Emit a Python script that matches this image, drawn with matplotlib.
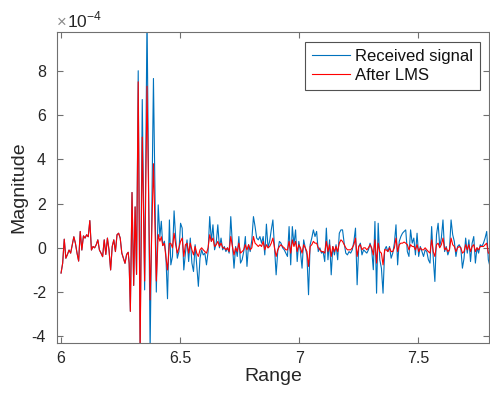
import numpy as np
import matplotlib
matplotlib.use("Agg")
import matplotlib.pyplot as plt

plt.rcParams['font.family'] = ['Liberation Sans', 'DejaVu Sans']

SCALE = 1e-4

# ---- data (magnitudes in units of 1e-4) ----
# pre-burst segment: range 6.000 .. 6.282 (received ~ after LMS)
pre_values = [-1.14, -0.7, 0.39, -0.47, -0.3, -0.1, -0.24, 0.14, 0.5, 0.2, -0.24, -0.6,
              0.74, -0.1, 0.54, 0.44, 0.59, 0.5, 1.23, -0.1, 0.06, 0.0, 0.14, 0.36, -0.1,
              -0.24, -0.4, 0.36, -0.3, 0.44, -0.1, -1.0, 0.06, 0.36, -0.17, 0.59, 0.66,
              0.44, -0.24, -0.47, -0.7, -0.3, -0.2]
pre_start, pre_end = 6.000, 6.282

# burst segment
burst_range = [6.286, 6.291, 6.298, 6.305, 6.311, 6.317, 6.324, 6.332, 6.341, 6.351, 6.361,
               6.374, 6.388, 6.400, 6.408, 6.415, 6.421, 6.427, 6.434, 6.440, 6.447, 6.455]
burst_received = [-0.7, -2.87, 2.5, -1.7, 1.85, -1.2, 8.0, -4.6, 6.7, -1.9, 10.5,
                  -4.6, 7.65, -2.0, 1.94, 0.51, 1.2, 0.1, 0.3, -0.3, -2.3, 1.26]
burst_lms = [-0.7, -2.87, 2.5, -1.7, 1.85, -1.2, 7.5, -4.6, 5.0, -1.5, 7.3,
             -2.35, 3.8, -1.5, 0.6, 0.3, 0.5, 0.1, 0.2, -0.4, -1.0, 0.2]

# post-burst segment: range 6.461 .. 7.801
post_received = [
    -0.77, -0.39, 1.67, 0.44, -0.47, -0.17, 1.11, 0.89, -1.0, -0.24, 0.36, -0.62, 0.44,
    -0.69, -1.07, 0.14, -0.77, -1.74, -0.47, -0.09, -0.32, -0.24, -0.77, -0.17, 1.41,
    0.29, 1.04, -0.09, 0.21, 1.04, 0.0, 0.44, -0.09, 0.06, -0.17, 0.0, -0.24, 1.41,
    0.14, -0.92, 0.06, -0.39, 0.51, -0.69, -0.54, -0.17, 0.51,
    -0.84, 0.14, -0.17, 0.36, 1.41, 0.96, 0.44, 0.36, 0.51, 0.21, 0.51, -0.32, 1.07,
    0.0, 0.29, 0.81, 1.26, 0.06, -1.22, -0.17, 0.29, 0.21, 0.0, -0.09, -0.24, -0.39,
    0.96, -0.77, 0.96, 0.14, 0.81, -0.62, 0.29, -0.17, -0.92, 0.36, 0.0, -0.32, -2.12,
    0.14, 0.44, 0.81, 0.51, 0.74, -0.17, 0.0, -0.24, -0.17, -0.62, 0.89,
    -0.54, 0.36, -1.22, 0.06, -0.32, 0.14, -0.54, 0.66, 0.81, 0.81, 0.21, -0.24, -0.32,
    -0.17, -0.24, -0.09, 0.29, 0.89, -1.67, 0.06, 0.21, -0.32, -0.09, -0.17, -0.24,
    -0.09, 0.21, -0.09, -0.99, 1.19, -2.05, 1.11, -0.54, -0.92, -2.05, -0.09, 0.06,
    -0.17, 0.06, -0.47, -0.24, 0.21, 1.04, -0.77, 0.29, 0.51, 0.66, 0.74,
    0.81, -0.17, -0.39, 0.81, 0.21, 0.44, -0.32, 0.66, -0.39, 0.06, -0.17, -0.39, -0.09,
    -0.17, -0.54, -0.69, 0.96, -0.47, -1.52, 0.59, 1.11, 0.06, 0.44, 1.26, -0.17, 0.06,
    -0.32, -0.09, 1.26, 0.59, 0.29, -0.39, 0.06, 0.14, 0.0, -0.92, -0.47, 0.44, -0.24,
    0.36, -0.62, 0.21, 0.51, -0.69, 0.0, -0.24, 0.14, 0.06, 0.21, 0.44, 0.74, -0.54, -0.84]
post_lms = [
    0.2, 0.0, 0.66, 0.14, -0.24, 0.0, 0.29, 0.44, -0.39, 0.14, 0.21, -0.24, 0.21,
    -0.09, -0.32, 0.06, -0.24, -0.39, -0.09, 0.0, -0.09, -0.17, -0.24, 0.0, 0.59,
    0.29, 0.44, 0.06, 0.14, 0.29, 0.06, 0.21, 0.0, 0.0, -0.09, 0.0, -0.17, 0.51,
    0.06, -0.32, 0.0, -0.17, 0.21, -0.24, -0.17, -0.09, 0.14,
    -0.09, 0.14, -0.09, 0.0, 0.51, 0.21, 0.14, 0.06, 0.14, 0.06, 0.29, -0.09, 0.14,
    0.0, 0.06, 0.21, 0.44, 0.0, -0.39, -0.09, 0.06, 0.14, 0.06, 0.0, -0.09, -0.09,
    0.29, -0.24, 0.36, 0.06, 0.29, -0.17, 0.14, 0.0, -0.24, 0.14, 0.0, -0.17, -0.84,
    0.06, 0.14, 0.29, 0.21, 0.21, 0.0, -0.09, -0.17, -0.17, -0.24, 0.29,
    -0.17, 0.14, -0.39, 0.06, -0.17, 0.06, -0.17, 0.21, 0.36, 0.29, 0.14, 0.0, -0.09,
    -0.09, -0.09, 0.0, 0.14, 0.44, -0.39, 0.06, 0.14, -0.09, 0.0, 0.0, -0.09,
    0.0, 0.14, 0.0, -0.32, 0.36, -0.69, 0.21, -0.17, -0.24, -0.77, -0.09, -0.09,
    -0.17, 0.0, -0.17, -0.17, 0.0, 0.44, -0.17, 0.14, 0.21, 0.21, 0.26,
    0.21, 0.14, -0.09, 0.14, 0.06, 0.06, -0.09, 0.14, -0.17, 0.0, -0.09, -0.09, 0.0,
    -0.09, -0.17, -0.24, 0.36, -0.17, -0.39, 0.14, 0.21, 0.0, 0.14, 0.44, -0.09, 0.0,
    -0.17, -0.09, 0.44, 0.14, 0.06, -0.17, 0.0, 0.06, 0.0, -0.24, -0.17, 0.14, -0.09,
    0.14, -0.17, 0.06, 0.14, -0.17, 0.0, -0.09, 0.06, 0.06, 0.06, 0.14, 0.21, -0.24, -0.24]
post_start, post_end = 6.461, 7.801

x_ticks = [6, 6.5, 7, 7.5]
y_ticks = [-4, -2, 0, 2, 4, 6, 8]
x_limits = (5.983, 7.797)
y_limits = (-4.3, 9.75)

# ---- assemble ----
range_axis = np.concatenate([np.linspace(pre_start, pre_end, len(pre_values)),
                             np.array(burst_range),
                             np.linspace(post_start, post_end, len(post_received))])
received = np.concatenate([pre_values, burst_received, post_received]) * SCALE
after_lms = np.concatenate([pre_values, burst_lms, post_lms]) * SCALE

fig = plt.figure(figsize=(4.9, 3.96), dpi=100)
ax = fig.add_axes([57/490, 1 - 343/396, (489 - 57)/490, (343 - 32)/396])

ax.plot(range_axis, received, color='#0072BD', lw=0.8, label='Received signal')
ax.plot(range_axis, after_lms, color='#FF0000', lw=0.8, label='After LMS')

ax.set_xlim(*x_limits)
ax.set_ylim(y_limits[0] * SCALE, y_limits[1] * SCALE)
ax.set_xticks(x_ticks)
ax.set_xticklabels([f'{t:g}' for t in x_ticks])
ax.set_yticks([t * SCALE for t in y_ticks])
ax.set_yticklabels([f'{t:g}' for t in y_ticks])

axis_col = '#707070'
text_col = '#262626'
for s in ax.spines.values():
    s.set_color(axis_col)
    s.set_linewidth(0.8)
ax.tick_params(direction='in', top=True, right=True, length=4, width=0.8,
               colors=axis_col, labelcolor=text_col, labelsize=11.5)
ax.tick_params(axis='y', pad=8)
ax.tick_params(axis='x', pad=6)

ax.set_xlabel('Range', fontsize=14, color=text_col, labelpad=1)
ax.set_ylabel('Magnitude', fontsize=14, color=text_col, labelpad=3)

fig.text(57/490, 1 - 27/396, '×', fontsize=12, color='#8a8a8a', va='baseline', ha='left')
fig.text(67/490, 1 - 27/396, '10$^{\\mathregular{-4}}$', fontsize=12.5, color=text_col,
         va='baseline', ha='left')

leg = ax.legend(loc='upper right', bbox_to_anchor=(480/490, 1 - 42/396),
                bbox_transform=fig.transFigure, fontsize=12, frameon=True, fancybox=False,
                borderpad=0.4, handlelength=2.3, handletextpad=0.3, labelspacing=0.25,
                borderaxespad=0)
leg.get_frame().set_edgecolor('#262626')
leg.get_frame().set_linewidth(0.8)
for t in leg.get_texts():
    t.set_color('#111111')

fig.savefig('out.png', dpi=100)
